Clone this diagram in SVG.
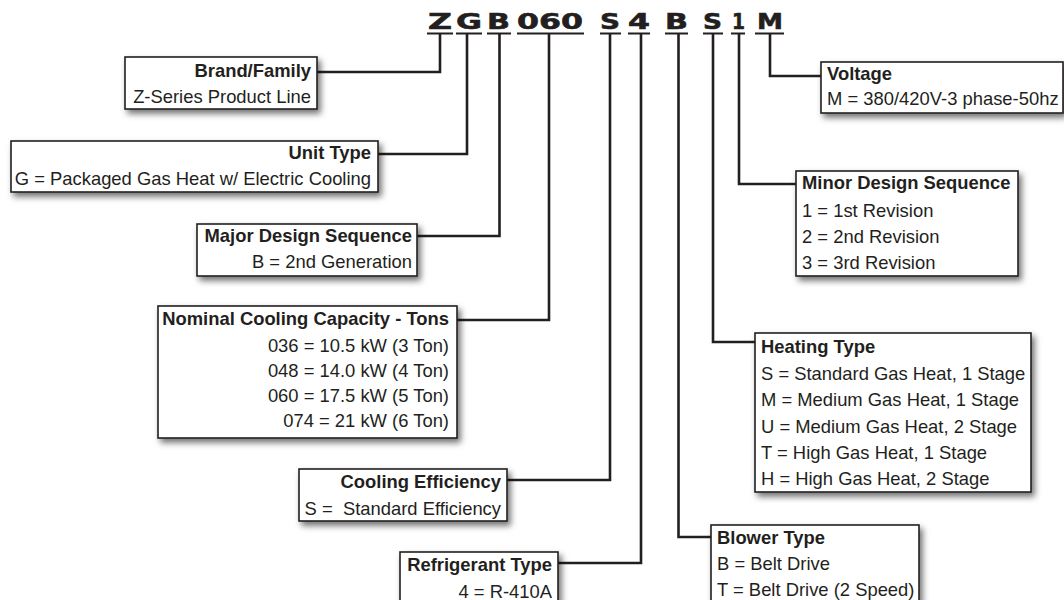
<svg xmlns="http://www.w3.org/2000/svg" width="1064" height="600" viewBox="0 0 1064 600">
<defs>
<filter id="sh" x="-10%" y="-20%" width="130%" height="160%">
<feDropShadow dx="3" dy="4" stdDeviation="3" flood-color="#000" flood-opacity="0.55"/>
</filter>
<style>
.code{font-family:"DejaVu Sans",sans-serif;font-weight:bold;font-size:22px;fill:#231f20;stroke:#231f20;stroke-width:0.6}
.ul{stroke:#231f20;stroke-width:2.2}
.conn{fill:none;stroke:#231f20;stroke-width:2.6}
.box{fill:#fff;stroke:#231f20;stroke-width:1.6;filter:url(#sh)}
.h{font-family:"Liberation Sans",Arial,sans-serif;font-weight:bold;font-size:18.4px;fill:#231f20}
.t{font-family:"Liberation Sans",Arial,sans-serif;font-size:18.4px;fill:#231f20;white-space:pre}
.r{text-anchor:end}
</style>
</defs>
<rect width="1064" height="600" fill="#fff"/>
<g id="code">
<text class="code" x="428" y="29" textLength="24" lengthAdjust="spacingAndGlyphs">Z</text>
<text class="code" x="456" y="29" textLength="26" lengthAdjust="spacingAndGlyphs">G</text>
<text class="code" x="487" y="29" textLength="23" lengthAdjust="spacingAndGlyphs">B</text>
<text class="code" x="517" y="29" textLength="66" lengthAdjust="spacingAndGlyphs">060</text>
<text class="code" x="600" y="29" textLength="20" lengthAdjust="spacingAndGlyphs">S</text>
<text class="code" x="628" y="29" textLength="22" lengthAdjust="spacingAndGlyphs">4</text>
<text class="code" x="665" y="29" textLength="23" lengthAdjust="spacingAndGlyphs">B</text>
<text class="code" x="703" y="29" textLength="19" lengthAdjust="spacingAndGlyphs">S</text>
<text class="code" x="732" y="29" textLength="13" lengthAdjust="spacingAndGlyphs">1</text>
<text class="code" x="757" y="29" textLength="26" lengthAdjust="spacingAndGlyphs">M</text>
<path class="ul" d="M427,33.5H453M456,33.5H482M487,33.5H511M517,33.5H584M600,33.5H621M628,33.5H650M665,33.5H688M703,33.5H723M731,33.5H745M755,33.5H784"/>
</g>
<g id="connectors">
<path class="conn" d="M440,33V72H317"/>
<path class="conn" d="M467,33V154H378"/>
<path class="conn" d="M499.5,33V236H417"/>
<path class="conn" d="M549,33V320H457"/>
<path class="conn" d="M610,33V480H507"/>
<path class="conn" d="M641,33V563H558"/>
<path class="conn" d="M678.5,33V537H711"/>
<path class="conn" d="M713,33V342H755"/>
<path class="conn" d="M739,33V184H796"/>
<path class="conn" d="M770,33V76H821"/>
</g>
<g id="brand">
<rect class="box" x="125" y="57" width="192" height="52"/>
<text class="h r" x="311" y="77">Brand/Family</text>
<text class="t r" x="311" y="103">Z-Series Product Line</text>
</g>
<g id="unit-type">
<rect class="box" x="11" y="141" width="367" height="51"/>
<text class="h r" x="371" y="159">Unit Type</text>
<text class="t r" x="371" y="185">G = Packaged Gas Heat w/ Electric Cooling</text>
</g>
<g id="major-design">
<rect class="box" x="197" y="224" width="220" height="52"/>
<text class="h r" x="412" y="242">Major Design Sequence</text>
<text class="t r" x="412" y="268">B = 2nd Generation</text>
</g>
<g id="nominal-cooling">
<rect class="box" x="158" y="306" width="299" height="132"/>
<text class="h r" x="449" y="325">Nominal Cooling Capacity - Tons</text>
<text class="t r" x="449" y="352">036 = 10.5 kW (3 Ton)</text>
<text class="t r" x="449" y="377">048 = 14.0 kW (4 Ton)</text>
<text class="t r" x="449" y="402">060 = 17.5 kW (5 Ton)</text>
<text class="t r" x="449" y="427">074 = 21 kW (6 Ton)</text>
</g>
<g id="cooling-efficiency">
<rect class="box" x="299" y="469" width="208" height="52"/>
<text class="h r" x="501" y="488">Cooling Efficiency</text>
<text class="t r" x="501" y="515">S =  Standard Efficiency</text>
</g>
<g id="refrigerant">
<rect class="box" x="400" y="552" width="158" height="60"/>
<text class="h r" x="552" y="571">Refrigerant Type</text>
<text class="t r" x="552" y="598">4 = R-410A</text>
</g>
<g id="voltage">
<rect class="box" x="821" y="62" width="242" height="51"/>
<text class="h" x="827" y="80">Voltage</text>
<text class="t" x="827" y="105">M = 380/420V-3 phase-50hz</text>
</g>
<g id="minor-design">
<rect class="box" x="796" y="171" width="222" height="105"/>
<text class="h" x="802" y="189">Minor Design Sequence</text>
<text class="t" x="802" y="217">1 = 1st Revision</text>
<text class="t" x="802" y="243">2 = 2nd Revision</text>
<text class="t" x="802" y="269">3 = 3rd Revision</text>
</g>
<g id="heating-type">
<rect class="box" x="755" y="333" width="276" height="159"/>
<text class="h" x="761" y="353">Heating Type</text>
<text class="t" x="761" y="380">S = Standard Gas Heat, 1 Stage</text>
<text class="t" x="761" y="406">M = Medium Gas Heat, 1 Stage</text>
<text class="t" x="761" y="433">U = Medium Gas Heat, 2 Stage</text>
<text class="t" x="761" y="459">T = High Gas Heat, 1 Stage</text>
<text class="t" x="761" y="485">H = High Gas Heat, 2 Stage</text>
</g>
<g id="blower-type">
<rect class="box" x="711" y="525" width="208" height="87"/>
<text class="h" x="717" y="544">Blower Type</text>
<text class="t" x="717" y="570">B = Belt Drive</text>
<text class="t" x="717" y="596">T = Belt Drive (2 Speed)</text>
</g>
</svg>
